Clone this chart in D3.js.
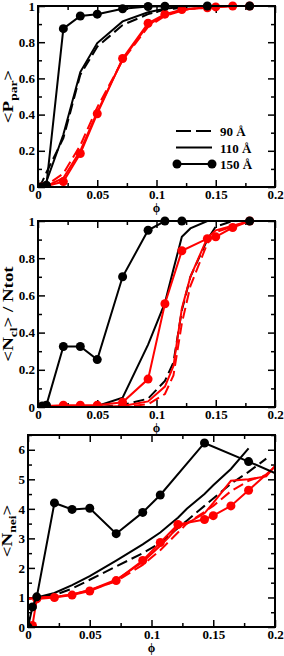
<!DOCTYPE html>
<html>
<head>
<meta charset="utf-8">
<script src="https://cdn.jsdelivr.net/npm/d3@7/dist/d3.min.js"></script>
<style>
body { margin: 0; background: #fff; }
text { font-family: "Liberation Serif", "Times New Roman", serif; font-weight: bold; fill: #000; }
</style>
</head>
<body>
<svg id="canvas" width="284" height="656"></svg>
<script>
// phi grid of the 150 A runs (circles) and of the smooth 90/110 A runs
const phiCircles = [0, 0.0036, 0.0071, 0.0214, 0.0357, 0.05, 0.0714, 0.0929, 0.1071, 0.1214, 0.1429, 0.15, 0.1643, 0.1786, 0.2143];
const phiLines = [0, 0.0036, 0.0071, 0.0214, 0.0357, 0.05, 0.0714, 0.0929, 0.1071, 0.1143, 0.1214, 0.1286, 0.1429, 0.15, 0.1643, 0.1786, 0.1929, 0.2];

const xTicks = [0, 0.05, 0.1, 0.15, 0.2];
const xTickLabels = ["0", "0.05", "0.1", "0.15", "0.2"];
const yTicksFrac = [0, 0.2, 0.4, 0.6, 0.8, 1];
const yTickLabelsFrac = ["0", "0.2", "0.4", "0.6", "0.8", "1"];
const yTicksNei = [0, 1, 2, 3, 4, 5, 6];
const yTickLabelsNei = ["0", "1", "2", "3", "4", "5", "6"];

const legendLabels = ["90 Å", "110 Å", "150 Å"];

// panel 1 : <P_par>
const parBlack150 = [0, 0, 0.01, 0.875, 0.945, 0.955, 0.985, 0.997, 0.999, null, 1, null, null, 1, null];
const parRed150 = [0, 0, 0.005, 0.03, 0.185, 0.405, 0.71, 0.905, 0.955, 0.98, 0.99, 0.995, 1, 1, null];
const parBlack110 = [0, 0.005, 0.03, 0.29, 0.635, 0.795, 0.915, 0.965, 0.985, 0.99, 0.995, 1, 1, 1, 1, 1, 1, 1];
const parBlack90 = [0, 0.03, 0.08, 0.27, 0.62, 0.775, 0.895, 0.955, 0.98, 0.985, 0.99, 1, 1, 1, 1, 1, 1, 1];
const parRed110 = [0, 0, 0.005, 0.05, 0.2, 0.415, 0.705, 0.895, 0.95, 0.965, 0.978, 0.985, 0.993, 0.995, 1, 1, 1, 1];
const parRed90 = [0, 0, 0.01, 0.075, 0.23, 0.44, 0.7, 0.885, 0.945, 0.96, 0.975, 0.985, 0.99, 0.995, 1, 1, 1, 1];

// panel 2 : <N_cl>/Ntot
const clBlack150 = [0, 0.005, 0.01, 0.325, 0.325, 0.255, 0.7, 0.95, 1, 1, null, null, null, 1, null];
const clRed150 = [0, 0, 0.005, 0.01, 0.01, 0.01, 0.025, 0.15, 0.555, 0.84, 0.905, 0.915, 0.965, 1, null];
const clBlack110 = [0, 0, 0, 0, 0, 0.005, 0.05, 0.335, 0.56, 0.74, 0.915, 0.96, 1, 1, 1, 1, 1, 1];
const clBlack90 = [0, 0, 0, 0, 0, 0, 0.01, 0.045, 0.14, 0.24, 0.52, 0.7, 0.9, 0.97, 1, 1, 1, 1];
const clRed110 = [0, 0, 0, 0, 0, 0, 0.005, 0.03, 0.11, 0.22, 0.53, 0.7, 0.91, 0.95, 0.975, 1, 1, 1];
const clRed90 = [0, 0, 0, 0, 0, 0, 0, 0.015, 0.07, 0.17, 0.45, 0.65, 0.88, 0.94, 0.97, 1, 1, 1];

// panel 3 : <N_nei>
const neiBlack150 = [0, 0.68, 1.02, 4.2, 3.98, 4.02, 3.16, 3.88, 4.47, null, 6.23, null, null, 5.6, 4.95];
const neiRed150 = [0, 0.05, 0.95, 1.0, 1.08, 1.22, 1.57, 2.25, 2.86, 3.47, 3.64, 3.77, 4.1, 4.63, 5.96];
const neiBlack110 = [0.97, 0.98, 1.0, 1.15, 1.42, 1.72, 2.25, 2.8, 3.2, 3.45, 3.7, 4.0, 4.5, 4.8, 5.35, 6.05, null, null];
const neiBlack90 = [0.97, 0.98, 1.0, 1.08, 1.3, 1.6, 2.05, 2.5, 2.85, 3.1, 3.35, 3.6, 4.1, 4.35, 4.85, 5.25, 5.7, null];
const neiRed110 = [0.95, 0.97, 1.0, 1.02, 1.1, 1.25, 1.6, 2.2, 2.75, 3.05, 3.4, 3.5, 3.85, 4.2, 4.95, 5.0, 5.1, 5.45];
const neiRed90 = [0.95, 0.97, 1.0, 1.02, 1.1, 1.25, 1.55, 2.1, 2.6, 2.9, 3.2, 3.5, 3.9, 4.1, 4.6, 4.95, 5.15, 5.4];

const RED = "#ff0000";
const svg = d3.select("#canvas");

function drawPanel(p) {
    var x = d3.scaleLinear().domain([0, 0.2]).range([p.left, p.right]);
    var y = d3.scaleLinear().domain(p.yDomain).range([p.bottom, p.top]);
    var g = svg.append("g");
    var clipId = "clip" + p.id;

    g.append("clipPath").attr("id", clipId).append("rect")
        .attr("x", p.left).attr("y", p.top - 6)
        .attr("width", p.right - p.left).attr("height", p.bottom - p.top + 6);

    // minor ticks every 0.025 in phi
    var xMinor = d3.range(0, 0.2001, 0.025).filter(function(v){ return Math.abs(v*20 - Math.round(v*20)) > 1e-6; });
    var yMinor = p.yMinor;
    var axes = [
        [d3.axisBottom(x).tickValues(xTicks).tickSize(-7).tickPadding(3).tickFormat(function(d, i){ return xTickLabels[i]; }), "translate(0," + p.bottom + ")"],
        [d3.axisTop(x).tickValues(xTicks).tickSize(-7).tickFormat(""), "translate(0," + p.top + ")"],
        [d3.axisBottom(x).tickValues(xMinor).tickSize(-4).tickFormat(""), "translate(0," + p.bottom + ")"],
        [d3.axisTop(x).tickValues(xMinor).tickSize(-4).tickFormat(""), "translate(0," + p.top + ")"],
        [d3.axisLeft(y).tickValues(p.yTicks).tickSize(-7).tickPadding(3).tickFormat(function(d, i){ return p.yLabels[i]; }), "translate(" + p.left + ",0)"],
        [d3.axisRight(y).tickValues(p.yTicks).tickSize(-7).tickFormat(""), "translate(" + p.right + ",0)"],
        [d3.axisLeft(y).tickValues(yMinor).tickSize(-4).tickFormat(""), "translate(" + p.left + ",0)"],
        [d3.axisRight(y).tickValues(yMinor).tickSize(-4).tickFormat(""), "translate(" + p.right + ",0)"]
    ];
    axes.forEach(function(a){
        var ax = g.append("g").attr("transform", a[1]).call(a[0]);
        ax.select(".domain").remove();
        ax.selectAll("line").attr("stroke", "#000").attr("stroke-width", 1.5);
        ax.selectAll("text").attr("font-size", 13).attr("fill", "#000")
            .attr("font-family", "Liberation Serif, serif").attr("font-weight", "bold");
    });

    var plot = g.append("g").attr("clip-path", "url(#" + clipId + ")");
    var line = d3.line().x(function(d){ return x(d[0]); }).y(function(d){ return y(d[1]); });

    p.series.forEach(function(s){
        // skip phi values where the run has no point
        var pts = s.phi.map(function(v, i){ return [v, s.values[i]]; })
            .filter(function(d){ return d[1] !== null; });
        plot.append("path").datum(pts)
            .attr("d", line)
            .attr("fill", "none")
            .attr("stroke", s.color)
            .attr("stroke-width", 2)
            .attr("stroke-dasharray", s.dash ? "11,5" : null);
        if (s.markers) {
            plot.selectAll(null).data(pts)
                .enter().append("circle")
                .attr("cx", function(d){ return x(d[0]); })
                .attr("cy", function(d){ return y(d[1]); })
                .attr("r", 4.5)
                .attr("fill", s.color);
        }
    });

    g.append("rect")
        .attr("x", p.left).attr("y", p.top)
        .attr("width", p.right - p.left).attr("height", p.bottom - p.top)
        .attr("fill", "none").attr("stroke", "#000").attr("stroke-width", 2);

    // x label
    g.append("text")
        .attr("x", (p.left + p.right) / 2).attr("y", p.bottom + 25)
        .attr("text-anchor", "middle").attr("font-size", 12)
        .attr("font-weight", "normal")
        .text("ϕ");

    // y label, stretched along its length like the original
    var cy = (p.top + p.bottom) / 2;
    var yl = g.append("text")
        .attr("transform", "translate(" + p.yLabelX + "," + cy + ") rotate(-90) scale(1.35,1)")
        .attr("text-anchor", "middle").attr("font-size", 14);
    yl.append("tspan").text(p.yLabel[0]);
    yl.append("tspan").attr("dy", 4).attr("font-size", 10).text(p.yLabel[1]);
    yl.append("tspan").attr("dy", -4).text(p.yLabel[2]);

    return {x: x, y: y, g: g};
}

drawPanel({
    id: 1, left: 38, right: 275, top: 6, bottom: 187,
    yDomain: [0, 1], yTicks: yTicksFrac, yLabels: yTickLabelsFrac,
    yMinor: [0.1, 0.3, 0.5, 0.7, 0.9], yLabelX: 13, yLabel: ["<P", "par", ">"],
    series: [
        {phi: phiLines, values: parBlack90, color: "#000", dash: true},
        {phi: phiLines, values: parBlack110, color: "#000"},
        {phi: phiLines, values: parRed90, color: RED, dash: true},
        {phi: phiLines, values: parRed110, color: RED},
        {phi: phiCircles, values: parRed150, color: RED, markers: true},
        {phi: phiCircles, values: parBlack150, color: "#000", markers: true}
    ]
});

drawPanel({
    id: 2, left: 38, right: 275, top: 221, bottom: 407,
    yDomain: [0, 1], yTicks: yTicksFrac, yLabels: yTickLabelsFrac,
    yMinor: [0.1, 0.3, 0.5, 0.7, 0.9], yLabelX: 13, yLabel: ["<N", "cl", "> / Ntot"],
    series: [
        {phi: phiLines, values: clBlack90, color: "#000", dash: true},
        {phi: phiLines, values: clBlack110, color: "#000"},
        {phi: phiLines, values: clRed90, color: RED, dash: true},
        {phi: phiLines, values: clRed110, color: RED},
        {phi: phiCircles, values: clRed150, color: RED, markers: true},
        {phi: phiCircles, values: clBlack150, color: "#000", markers: true}
    ]
});

drawPanel({
    id: 3, left: 28, right: 275, top: 435, bottom: 627,
    yDomain: [0, 6.5], yTicks: yTicksNei, yLabels: yTickLabelsNei,
    yMinor: [0.5, 1.5, 2.5, 3.5, 4.5, 5.5, 6.5], yLabelX: 12, yLabel: ["<N", "nei", ">"],
    series: [
        {phi: phiLines, values: neiBlack90, color: "#000", dash: true},
        {phi: phiLines, values: neiBlack110, color: "#000"},
        {phi: phiLines, values: neiRed90, color: RED, dash: true},
        {phi: phiLines, values: neiRed110, color: RED},
        {phi: phiCircles, values: neiRed150, color: RED, markers: true},
        {phi: phiCircles, values: neiBlack150, color: "#000", markers: true}
    ]
});

// legend in the top panel
var legend = svg.append("g");
legendLabels.forEach(function(lab, i){
    var ly = 131 + i * 16.5;
    legend.append("line")
        .attr("x1", 176).attr("x2", 212).attr("y1", ly).attr("y2", ly)
        .attr("stroke", "#000").attr("stroke-width", 2)
        .attr("stroke-dasharray", i === 0 ? "15,5" : null);
    if (i === 2) {
        [177, 212].forEach(function(cx){
            legend.append("circle").attr("cx", cx).attr("cy", ly).attr("r", 4.5).attr("fill", "#000");
        });
    }
    legend.append("text")
        .attr("x", 220).attr("y", ly + 5)
        .attr("font-size", 13)
        .text(lab);
});
</script>
</body>
</html>
